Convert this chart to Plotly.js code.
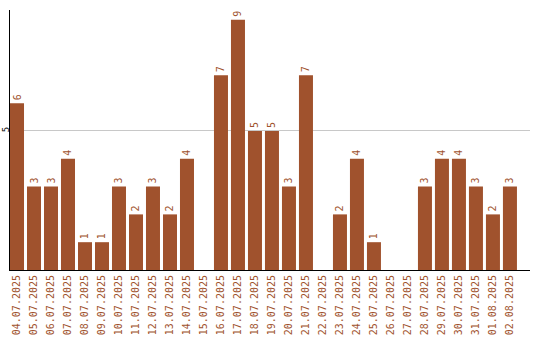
<!DOCTYPE html>
<html><head><meta charset="utf-8">
<script src="https://cdn.plot.ly/plotly-3.0.1.min.js"></script>
<style>body{margin:0;background:#fff}#c{width:540px;height:340px}</style>
</head><body><div id="c"></div>
<script>
const dates = ["04.07.2025","05.07.2025","06.07.2025","07.07.2025","08.07.2025","09.07.2025","10.07.2025","11.07.2025","12.07.2025","13.07.2025","14.07.2025","15.07.2025","16.07.2025","17.07.2025","18.07.2025","19.07.2025","20.07.2025","21.07.2025","22.07.2025","23.07.2025","24.07.2025","25.07.2025","26.07.2025","27.07.2025","28.07.2025","29.07.2025","30.07.2025","31.07.2025","01.08.2025","02.08.2025"];
const counts = [6,3,3,4,1,1,3,2,3,2,4,0,7,9,5,5,3,7,0,2,4,1,0,0,3,4,4,3,2,3];
const yTicks = [5];

const brown = '#A0522D';
const font = "'DejaVu Sans Mono', monospace";
Plotly.newPlot('c', [{
  type: 'bar',
  x: dates,
  y: counts,
  marker: {color: brown},
  text: counts.map(v => v ? String(v) : ''),
  textposition: 'outside',
  textangle: -90,
  textfont: {family: font, size: 10, color: brown},
  cliponaxis: false,
  hoverinfo: 'none'
}], {
  width: 540, height: 340,
  margin: {l: 10, r: 10, t: 10, b: 70},
  paper_bgcolor: '#fff', plot_bgcolor: '#fff',
  bargap: 0.176,
  showlegend: false,
  xaxis: {
    type: 'category',
    range: [-0.412, 30.18],
    showline: true, linecolor: '#000', linewidth: 1,
    ticks: '', tickangle: -90,
    tickfont: {family: font, size: 10, color: brown},
    showgrid: false, zeroline: false
  },
  yaxis: {
    range: [0, 9.35],
    showline: true, linecolor: '#000', linewidth: 1,
    tickvals: yTicks, ticktext: yTicks.map(String),
    tickangle: -90,
    ticklabelstandoff: -4,
    tickfont: {family: font, size: 9, color: '#000'},
    showgrid: true, gridcolor: '#c8c8c8', gridwidth: 1,
    zeroline: false, ticks: '', ticklen: 0
  }
}, {staticPlot: true});
</script></body></html>
